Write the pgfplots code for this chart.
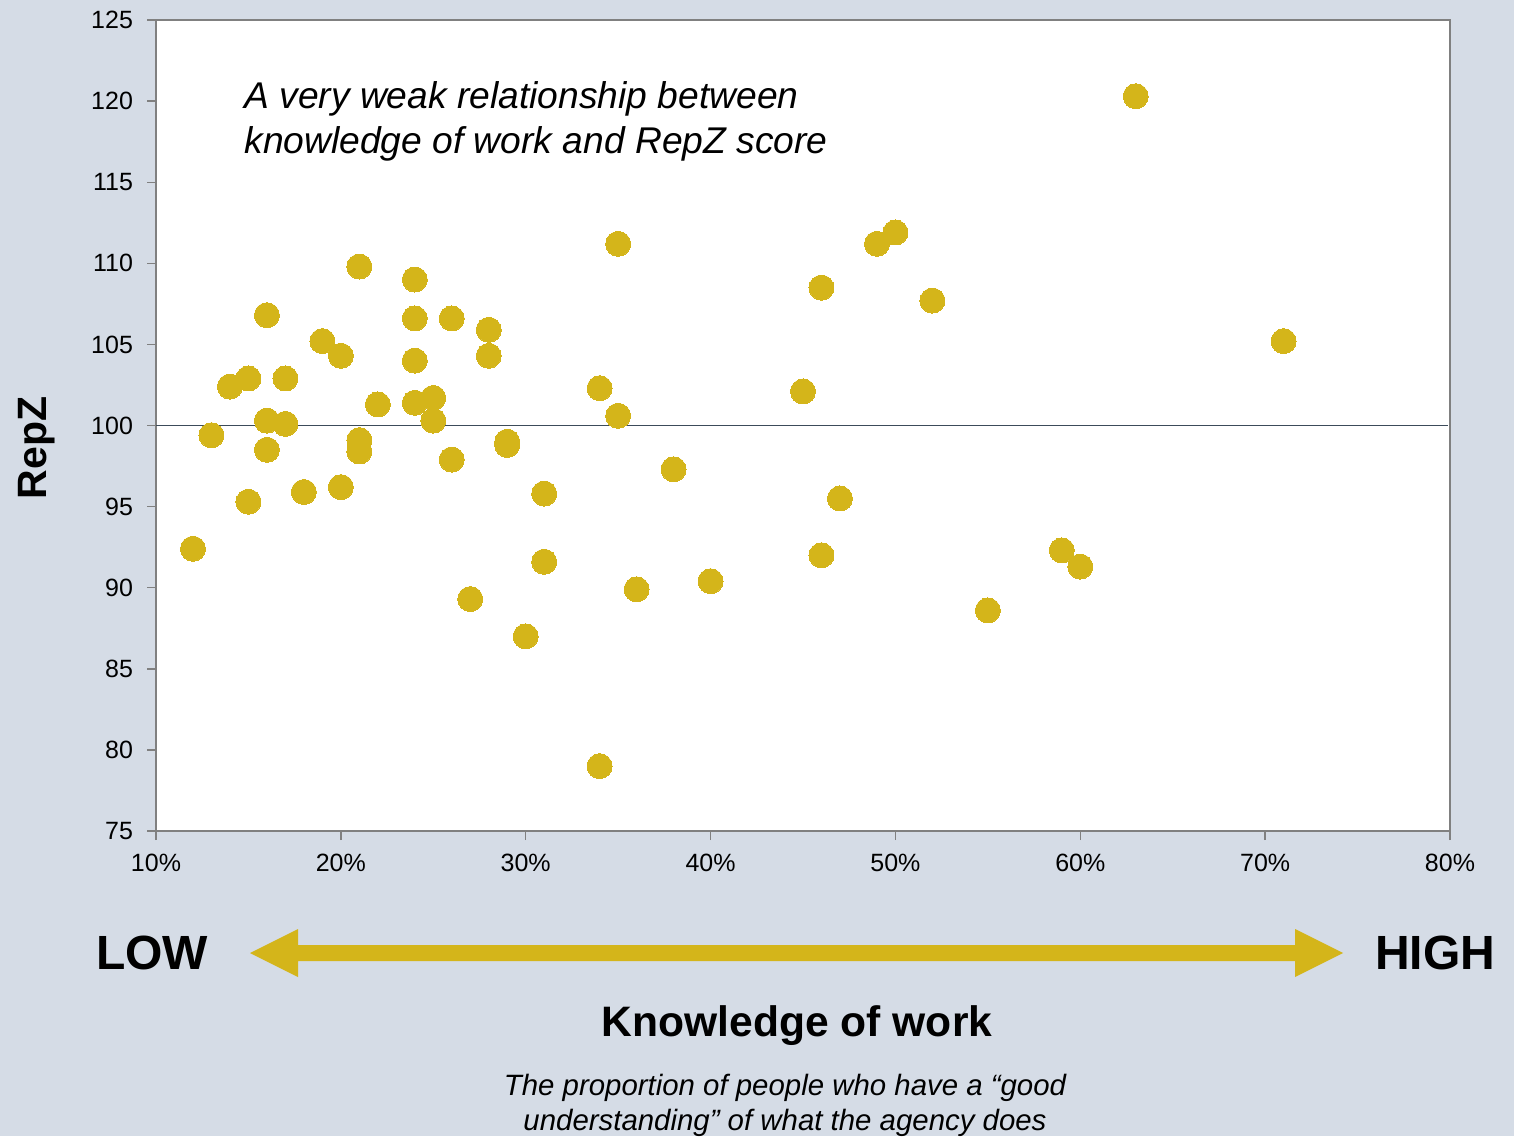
\documentclass[border=0pt]{standalone}
\usepackage{pgfplots}
\pgfplotsset{compat=1.18}
\usepackage{fontspec}
\setmainfont{Liberation Sans}
\definecolor{bgcol}{RGB}{213,220,230}
\definecolor{dotcol}{RGB}{212,181,26}
\definecolor{linecol}{RGB}{60,75,90}
\definecolor{framecol}{RGB}{128,128,128}
\begin{document}
\begin{tikzpicture}
\fill[bgcol] (0,0) rectangle (757pt,568pt);
\begin{axis}[
  at={(78pt,152.5pt)}, anchor=south west,
  scale only axis, width=647pt, height=405.5pt,
  xmin=10, xmax=80, ymin=75, ymax=125,
  xtick={10,20,...,80}, ytick={75,80,...,125},
  xticklabel={\pgfmathprintnumber{\tick}\%},
  /pgf/number format/assume math mode=true,
  tick align=outside, major tick length=4.5pt,
  xtick pos=bottom, ytick pos=left,
  axis line style={framecol, line width=1pt},
  tick style={framecol, line width=0.7pt},
  axis background/.style={fill=white},
  ticklabel style={font=\fontsize{12.5}{14}\selectfont},
  yticklabel style={xshift=-3.5pt},
  xticklabel style={yshift=-3.5pt},
  clip=false,
]
\addplot[linecol, line width=0.8pt, forget plot] coordinates {(10,100)(79.9,100)};
\addplot[only marks, mark=*, color=dotcol, mark size=6.25pt,
  mark options={fill=dotcol, draw=dotcol, line width=0pt}]
coordinates {
(12,92.4)(13,99.4)(14,102.4)(15,102.9)(15,95.3)(16,106.8)(16,100.3)(16,98.5)
(17,102.9)(17,100.1)(18,95.9)(19,105.2)(20,104.3)(20,96.2)(21,109.8)(21,99.1)
(21,98.4)(22,101.3)(24,109.0)(24,106.6)(24,104.0)(24,101.4)(25,101.7)(25,100.3)
(26,106.6)(26,97.9)(27,89.3)(28,105.9)(28,104.3)(29,99.0)(29,98.8)(30,87.0)
(31,95.8)(31,91.6)(34,102.3)(34,79.0)(35,111.2)(35,100.6)(36,89.9)(38,97.3)
(40,90.4)(45,102.1)(46,108.5)(46,92.0)(47,95.5)(49,111.2)(50,111.9)(52,107.7)
(55,88.6)(59,92.3)(60,91.3)(63,120.3)(71,105.2)
};
\end{axis}
% title inside plot
\node[anchor=west, align=left, inner sep=0pt, font=\fontsize{18.6}{22.5}\selectfont\itshape]
  at (122pt,507.5pt) {A very weak relationship between\\knowledge of work and RepZ score};
% y label
\node[rotate=90, font=\fontsize{20.5}{22}\selectfont\bfseries] at (18.5pt,344pt) {RepZ};
% low-high arrow
\fill[dotcol] (125pt,91.5pt) -- (149pt,103.5pt) -- (149pt,95.5pt) -- (647.5pt,95.5pt)
  -- (647.5pt,103.5pt) -- (671.5pt,91.5pt) -- (647.5pt,79.5pt) -- (647.5pt,87.5pt)
  -- (149pt,87.5pt) -- (149pt,79.5pt) -- cycle;
\node[font=\fontsize{24}{26}\selectfont\bfseries] at (76pt,91.5pt) {LOW};
\node[font=\fontsize{24}{26}\selectfont\bfseries] at (717.5pt,91.5pt) {HIGH};
\node[font=\fontsize{21.3}{23}\selectfont\bfseries] at (398.5pt,55pt) {Knowledge of work};
\node[align=center, font=\fontsize{14.7}{17.5}\selectfont\itshape] at (392.5pt,15.5pt)
  {The proportion of people who have a “good\\understanding” of what the agency does};
\pgfresetboundingbox
\useasboundingbox (0,0) rectangle (757pt,568pt);
\end{tikzpicture}
\end{document}
